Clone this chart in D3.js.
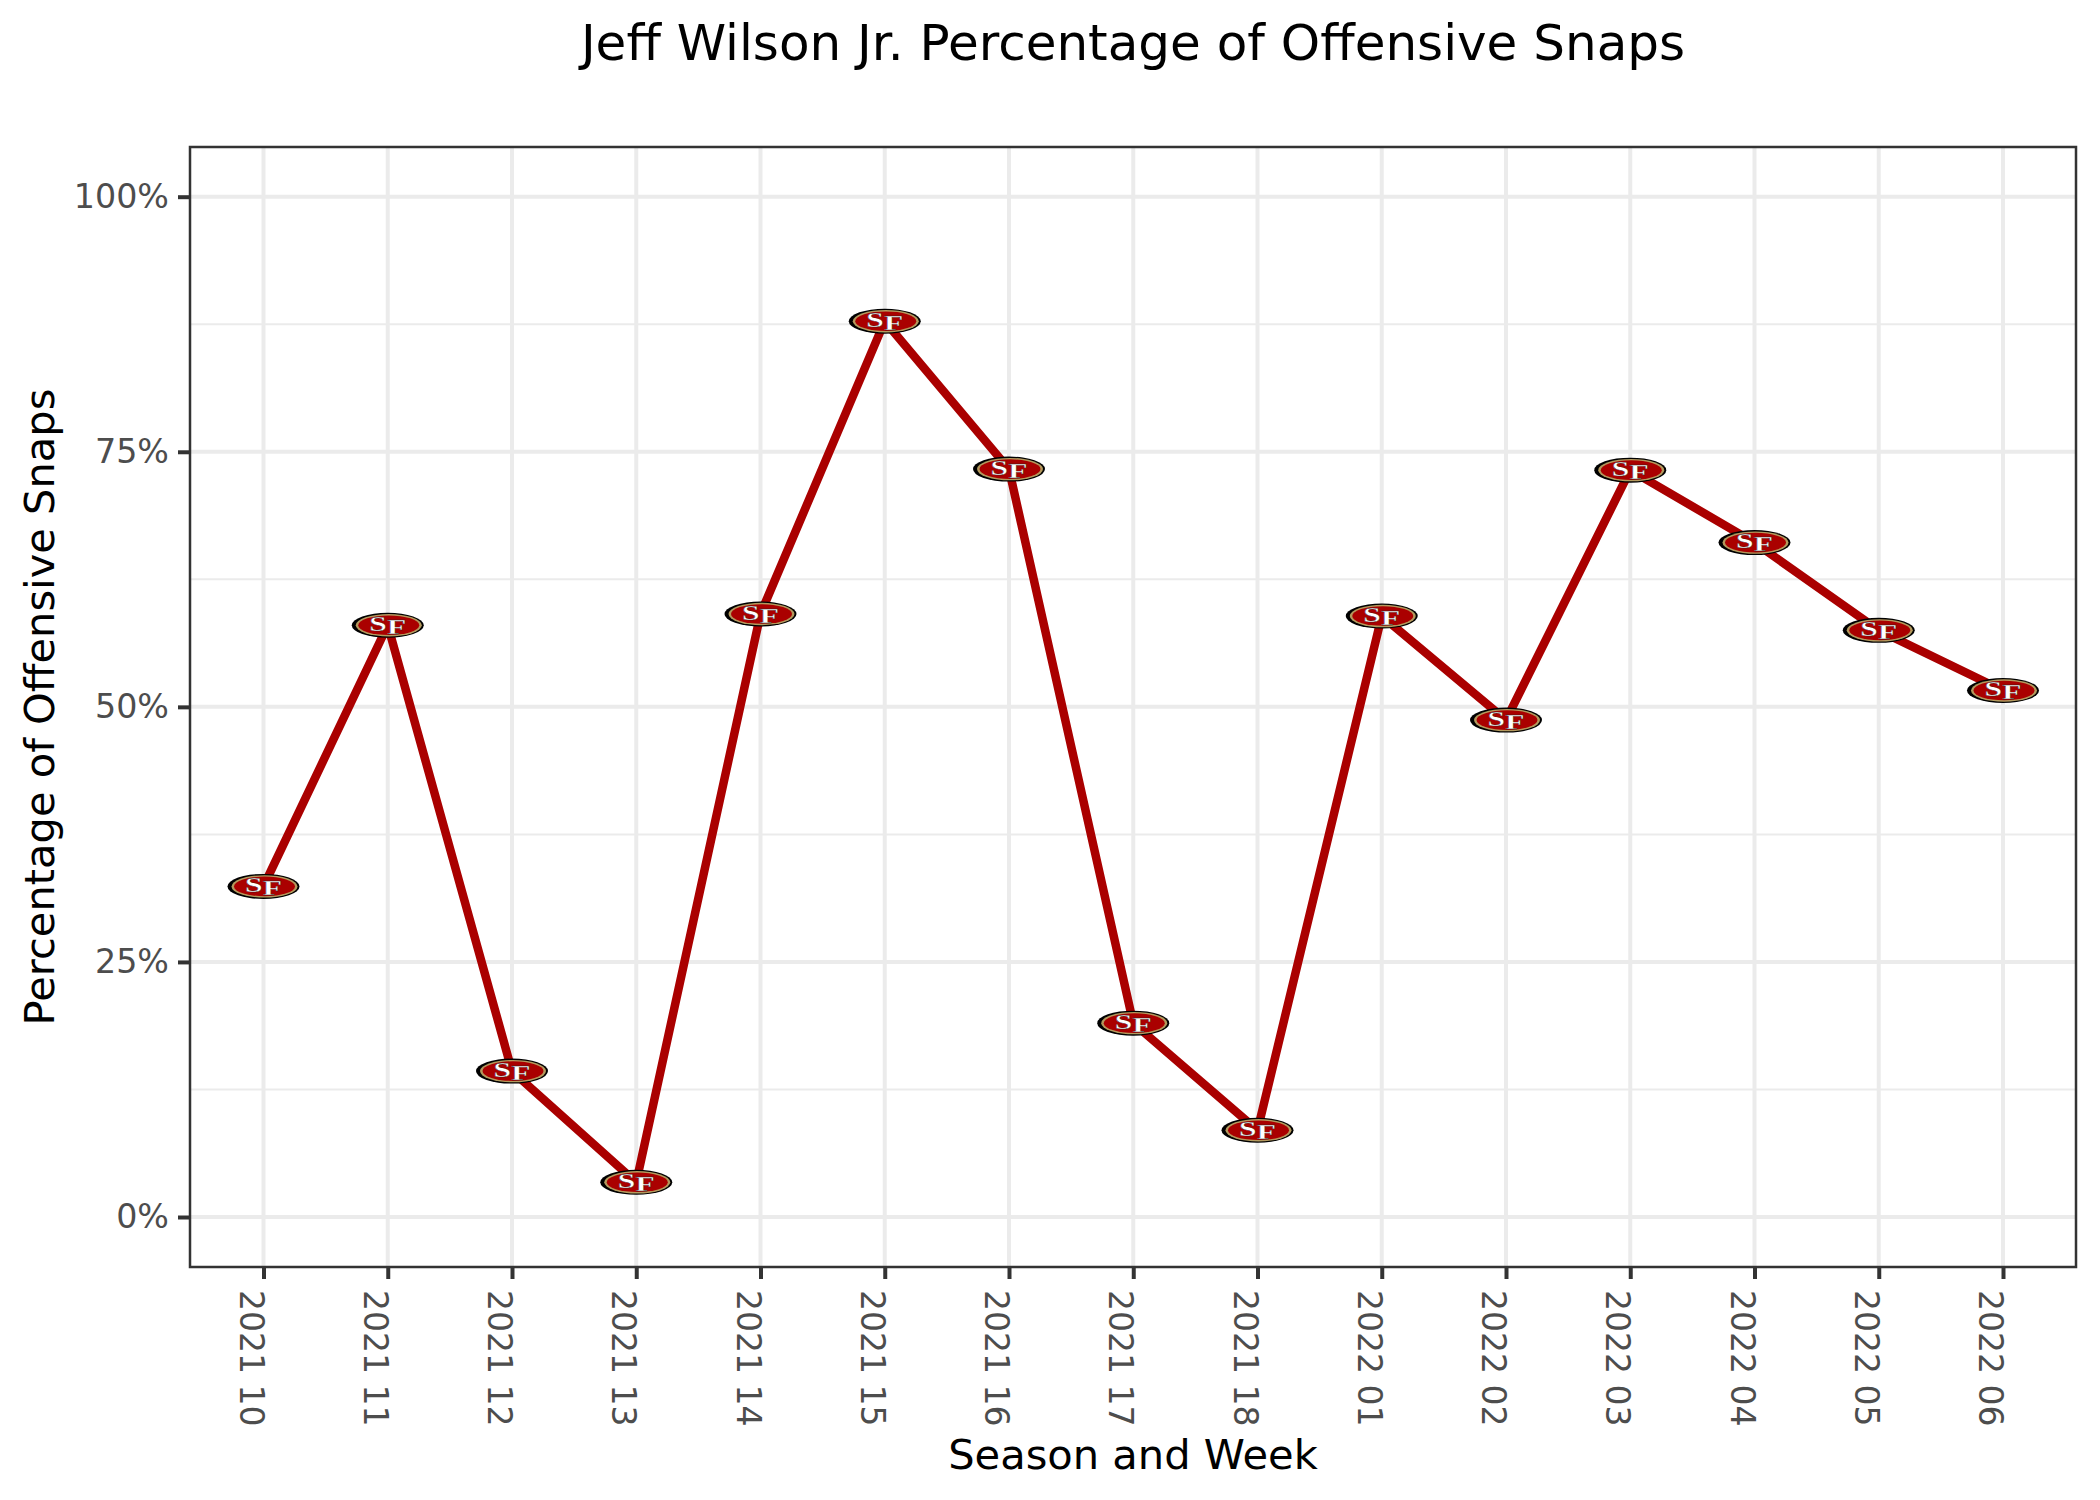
<!DOCTYPE html>
<html>
<head>
<meta charset="utf-8">
<script src="https://cdn.jsdelivr.net/npm/d3@7"></script>
<style>
  html, body { margin: 0; padding: 0; background: #fff; }
  text { font-family: "DejaVu Sans", sans-serif; }
</style>
</head>
<body>
<svg id="chart" width="2100" height="1500" style="display:block"></svg>
<script>
const weeks = ["2021 10", "2021 11", "2021 12", "2021 13", "2021 14", "2021 15", "2021 16", "2021 17",
  "2021 18", "2022 01", "2022 02", "2022 03", "2022 04", "2022 05", "2022 06"];
const snapPct = [32.4, 58.0, 14.3, 3.4, 59.1, 87.8, 73.3, 19.0, 8.5, 58.9, 48.7, 73.2, 66.1, 57.5, 51.6];
const majorTicks = [0, 25, 50, 75, 100];
const minorTicks = [12.5, 37.5, 62.5, 87.5];

const panel = { left: 190, right: 2076, top: 147, bottom: 1267 };

const svg = d3.select("#chart");

const x = d3.scalePoint().domain(weeks).range([263.5, 2003]);
const y = d3.scaleLinear().domain([0, 100]).range([1217, 196.7]);

// gridlines
const grid = svg.append("g");
grid.selectAll(".minor").data(minorTicks).join("line")
  .attr("x1", panel.left).attr("x2", panel.right)
  .attr("y1", d => y(d)).attr("y2", d => y(d))
  .attr("stroke", "#ebebeb").attr("stroke-width", 2);
grid.selectAll(".major").data(majorTicks).join("line")
  .attr("x1", panel.left).attr("x2", panel.right)
  .attr("y1", d => y(d)).attr("y2", d => y(d))
  .attr("stroke", "#ebebeb").attr("stroke-width", 4);
grid.selectAll(".vert").data(weeks).join("line")
  .attr("x1", d => x(d)).attr("x2", d => x(d))
  .attr("y1", panel.top).attr("y2", panel.bottom)
  .attr("stroke", "#ebebeb").attr("stroke-width", 4);

// line
const line = d3.line().x((d, i) => x(weeks[i])).y(d => y(d));
svg.append("path").datum(snapPct)
  .attr("d", line)
  .attr("fill", "none")
  .attr("stroke", "#aa0000")
  .attr("stroke-width", 8.5)
  .attr("stroke-linejoin", "round");

// 49ers logo marks
const logos = svg.append("g").selectAll("g").data(snapPct).join("g")
  .attr("transform", (d, i) => `translate(${x(weeks[i])},${y(d)})`);
logos.append("ellipse").attr("rx", 36).attr("ry", 12.5).attr("fill", "#000");
logos.append("ellipse").attr("cx", 1).attr("rx", 33).attr("ry", 11.2).attr("fill", "#b3995d");
logos.append("ellipse").attr("cx", 1).attr("rx", 30.5).attr("ry", 9.8).attr("fill", "#aa0000");
const sf = logos.append("text")
  .attr("transform", "scale(1.05,0.72)")
  .attr("text-anchor", "middle")
  .attr("y", 8)
  .attr("font-size", 30)
  .attr("font-weight", "bold")
  .style("font-family", "'Liberation Serif', serif")
  .attr("fill", "#fff")
  .attr("stroke", "#222")
  .attr("stroke-width", 0.4);
sf.append("tspan").text("S");
sf.append("tspan").attr("dy", 4).text("F");

// panel border
svg.append("rect")
  .attr("x", panel.left).attr("y", panel.top)
  .attr("width", panel.right - panel.left).attr("height", panel.bottom - panel.top)
  .attr("fill", "none").attr("stroke", "#333").attr("stroke-width", 2.5);

// axes
const yAxis = svg.append("g").attr("transform", `translate(${panel.left},0)`)
  .call(d3.axisLeft(y).tickValues(majorTicks).tickFormat(d => d + "%").tickSize(12).tickPadding(9));
const xAxis = svg.append("g").attr("transform", `translate(0,${panel.bottom})`)
  .call(d3.axisBottom(x).tickSize(12));
yAxis.select(".domain").remove();
xAxis.select(".domain").remove();
svg.selectAll(".tick line").attr("stroke", "#333").attr("stroke-width", 4);
yAxis.selectAll(".tick text").attr("fill", "#4d4d4d").attr("font-size", 33.3)
  .style("font-family", "'DejaVu Sans'");
xAxis.selectAll(".tick text")
  .attr("fill", "#4d4d4d").attr("font-size", 33)
  .style("font-family", "'DejaVu Sans'")
  .attr("text-anchor", "start")
  .attr("dy", 0).attr("y", 0).attr("x", 0)
  .attr("transform", "translate(-24.5,23) rotate(90)");

// titles
svg.append("text").attr("x", 1133).attr("y", 60).attr("text-anchor", "middle")
  .attr("font-size", 50).attr("fill", "#000").text("Jeff Wilson Jr. Percentage of Offensive Snaps");
svg.append("text").attr("x", 1133).attr("y", 1469).attr("text-anchor", "middle")
  .attr("font-size", 41.6).attr("fill", "#000").text("Season and Week");
svg.append("text").attr("transform", "translate(54,707) rotate(-90)").attr("text-anchor", "middle")
  .attr("font-size", 41.6).attr("fill", "#000").text("Percentage of Offensive Snaps");
</script>
</body>
</html>
